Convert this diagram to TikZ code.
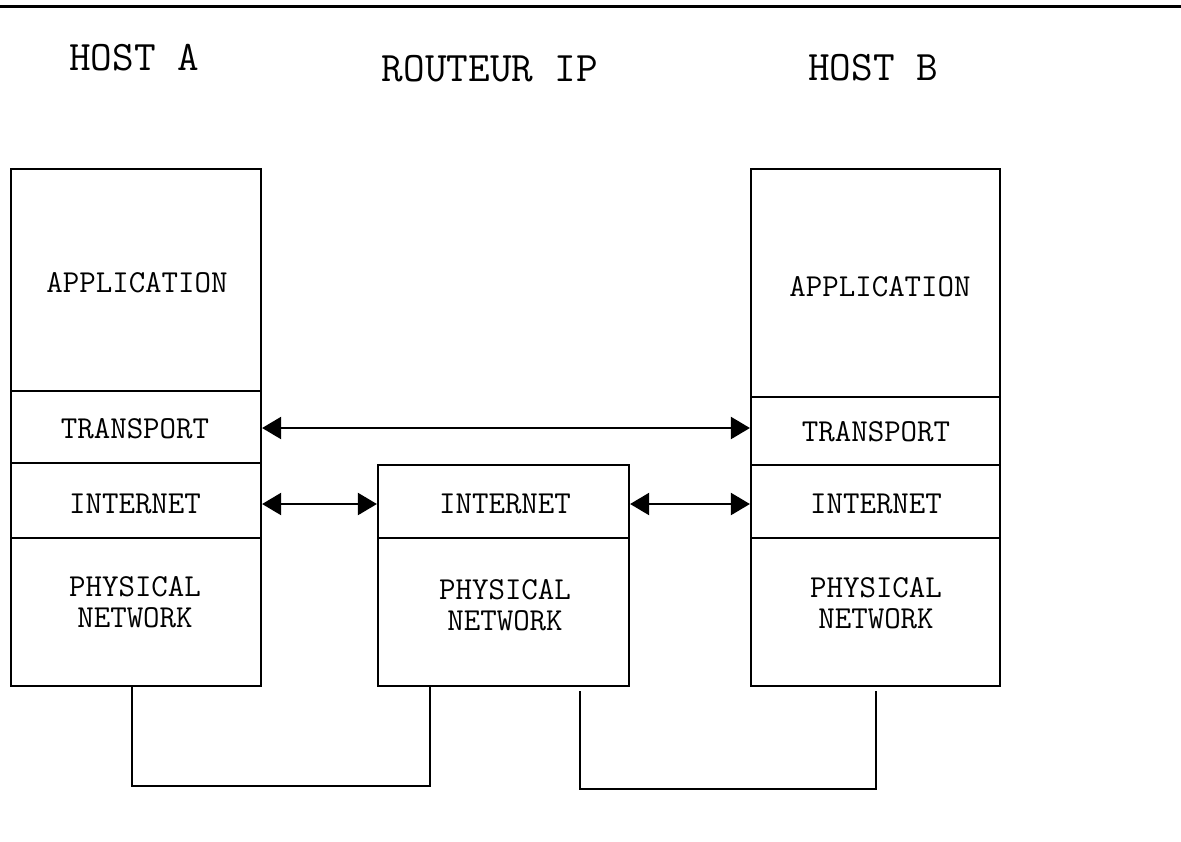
\documentclass[tikz,border=0pt]{standalone}
\usetikzlibrary{arrows.meta}
\begin{document}
\begin{tikzpicture}[x=0.5pt,y=-0.5pt,
  line width=1.1pt,
  layer/.style={draw,line width=1.1pt,inner sep=0pt},
  heading/.style={font=\ttfamily\fontsize{21}{24}\selectfont},
  lbl/.style={font=\ttfamily\fontsize{16}{15.5}\selectfont,align=center},
  link/.style={line width=1.1pt,{Triangle[length=9.5pt,width=11pt]}-{Triangle[length=9.5pt,width=11pt]}},
  wire/.style={line width=1.1pt}]
\useasboundingbox (0,0) rectangle (1181,841);
\draw[line width=1.5pt] (0,6) -- (1181,6);

% headings
\node[heading] (ha) at (134,58) {HOST A};
\node[heading] (ri) at (490,69) {ROUTEUR IP};
\node[heading] (hb) at (873,68) {HOST B};

% Host A stack
\node[layer,minimum width=250*0.5pt,minimum height=222*0.5pt] (aApp) at (136,280) {};
\node[layer,minimum width=250*0.5pt,minimum height=72*0.5pt] (aTr) at (136,427) {};
\node[layer,minimum width=250*0.5pt,minimum height=75*0.5pt] (aIn) at (136,500.5) {};
\node[layer,minimum width=250*0.5pt,minimum height=148*0.5pt] (aPh) at (136,612) {};
\node[lbl] at (137,283) {APPLICATION};
\node[lbl] at (135,429) {TRANSPORT};
\node[lbl] at (135,504) {INTERNET};
\node[lbl] at (135,602) {PHYSICAL\\NETWORK};

% Router stack
\node[layer,minimum width=251*0.5pt,minimum height=73*0.5pt] (rIn) at (503.5,501.5) {};
\node[layer,minimum width=251*0.5pt,minimum height=148*0.5pt] (rPh) at (503.5,612) {};
\node[lbl] at (505,504) {INTERNET};
\node[lbl] at (505,605) {PHYSICAL\\NETWORK};

% Host B stack
\node[layer,minimum width=249*0.5pt,minimum height=228*0.5pt] (bApp) at (875.5,283) {};
\node[layer,minimum width=249*0.5pt,minimum height=68*0.5pt] (bTr) at (875.5,431) {};
\node[layer,minimum width=249*0.5pt,minimum height=73*0.5pt] (bIn) at (875.5,501.5) {};
\node[layer,minimum width=249*0.5pt,minimum height=148*0.5pt] (bPh) at (875.5,612) {};
\node[lbl] at (880,287) {APPLICATION};
\node[lbl] at (876,432) {TRANSPORT};
\node[lbl] at (876,504) {INTERNET};
\node[lbl] at (876,603) {PHYSICAL\\NETWORK};

% peer links
\draw[link] (aTr.east |- 0,428) -- (bTr.west |- 0,428);
\draw[link] (aIn.east |- 0,504) -- (rIn.west |- 0,504);
\draw[link] (rIn.east |- 0,504) -- (bIn.west |- 0,504);

% physical wires
\coordinate (w1) at (132,786);
\coordinate (w2) at (430,786);
\coordinate (w3) at (580,789);
\coordinate (w4) at (876,789);
\draw[wire] (aPh.south -| w1) -- (w1) -- (w2) -- (rPh.south -| w2);
\draw[wire] ([yshift=-2pt]rPh.south -| w3) -- (w3) -- (w4) -- ([yshift=-2pt]bPh.south -| w4);
\end{tikzpicture}
\end{document}
